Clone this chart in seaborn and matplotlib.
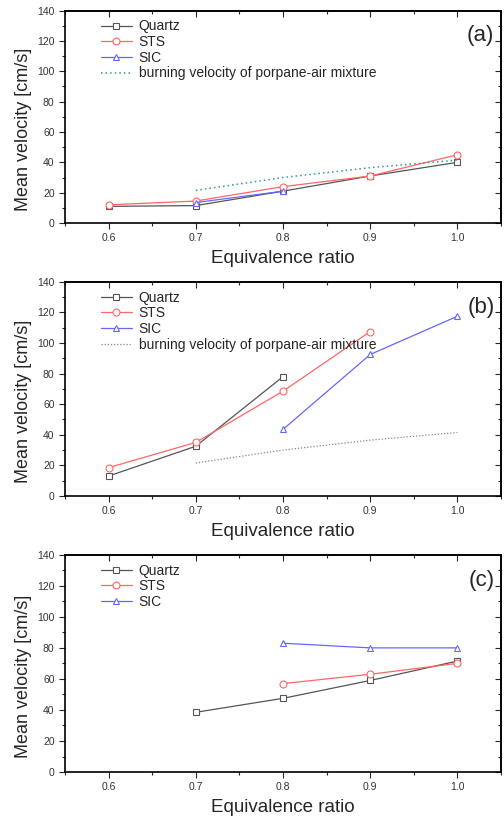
import numpy as np
import pandas as pd
import matplotlib
matplotlib.use("Agg")
import matplotlib.pyplot as plt
import seaborn as sns

# equivalence ratios
phi = [0.6, 0.7, 0.8, 0.9, 1.0]

# panel (a)
a_quartz = [11, 11.5, 21, 31, 40]
a_sts = [12, 14.5, 24, 31, 45]
a_sic_phi = [0.7, 0.8]
a_sic = [13.5, 21]

# panel (b)
b_quartz_phi = [0.6, 0.7, 0.8]
b_quartz = [13, 32.5, 78]
b_sts_phi = [0.6, 0.7, 0.8, 0.9]
b_sts = [18.5, 35, 68.5, 107.5]
b_sic_phi = [0.8, 0.9, 1.0]
b_sic = [43.5, 92.5, 117.5]

# panel (c)
c_quartz_phi = [0.7, 0.8, 0.9, 1.0]
c_quartz = [38.5, 47.5, 59, 71.5]
c_sts_phi = [0.8, 0.9, 1.0]
c_sts = [57, 63, 70]
c_sic_phi = [0.8, 0.9, 1.0]
c_sic = [83, 80, 80]

# burning velocity of propane-air mixture
burn_phi = [0.7, 0.8, 0.9, 1.0]
burn_vel = [21.5, 30, 36.5, 41.5]

sns.set_style("ticks")
plt.rcParams['font.family'] = ['Liberation Sans', 'DejaVu Sans']

fig = plt.figure(figsize=(5.04, 8.17), dpi=100)
positions = [
    [0.129, 0.727, 0.865, 0.260],
    [0.129, 0.393, 0.865, 0.262],
    [0.129, 0.055, 0.865, 0.266],
]

styles = {
    'Quartz': dict(color='#555555', marker='s'),
    'STS': dict(color='#ff6666', marker='o'),
    'SIC': dict(color='#6666ff', marker='^'),
}


def draw_series(ax, x, y, name):
    df = pd.DataFrame({'phi': x, 'v': y})
    st = styles[name]
    sns.lineplot(data=df, x='phi', y='v', ax=ax, color=st['color'],
                 marker=st['marker'], markersize=5, mfc='white',
                 mec=st['color'], mew=0.8, lw=0.9, label=name)


def setup_axis(ax, tag):
    ax.set_xlim(0.55, 1.05)
    ax.set_ylim(0, 140)
    xmaj = phi
    xmin = np.arange(0.55, 1.06, 0.1)
    ymaj = np.arange(0, 141, 20)
    ymin = np.arange(10, 140, 20)
    ax.set_xticks(xmaj)
    ax.set_xticklabels([f"{p:.1f}" for p in phi])
    ax.set_xticks(xmin, minor=True)
    ax.set_yticks(ymaj)
    ax.set_yticks(ymin, minor=True)
    ax.tick_params(axis='both', which='major', labelsize=7.5, labelcolor='#333333',
                   length=4, width=0.8, direction='out')
    ax.tick_params(axis='both', which='minor', length=2.5, width=0.8,
                   direction='out')
    # inward ticks on top and right
    top = ax.secondary_xaxis('top')
    top.set_xticks(xmaj)
    top.set_xticks(xmin, minor=True)
    top.tick_params(which='major', direction='in', length=4, width=0.8,
                    labeltop=False)
    top.tick_params(which='minor', direction='in', length=2.5, width=0.8)
    right = ax.secondary_yaxis('right')
    right.set_yticks(ymaj)
    right.set_yticks(ymin, minor=True)
    right.tick_params(which='major', direction='in', length=4, width=0.8,
                      labelright=False)
    right.tick_params(which='minor', direction='in', length=2.5, width=0.8)
    for sp in list(ax.spines.values()) + [top.spines['top'], right.spines['right']]:
        sp.set_linewidth(1.2)
        sp.set_color('black')
    ax.set_xlabel('Equivalence ratio', fontsize=13.5, labelpad=5)
    ax.set_ylabel('Mean velocity [cm/s]', fontsize=13)
    ax.yaxis.set_label_coords(-0.075, 0.44)
    ax.text(0.985, 0.93, tag, transform=ax.transAxes, ha='right', va='top',
            fontsize=16)
    ax.legend(loc='upper left', bbox_to_anchor=(0.07, 0.985), frameon=False,
              fontsize=10, handlelength=2.2, handletextpad=0.5,
              labelspacing=0.12, borderaxespad=0)


# (a)
ax = fig.add_axes(positions[0])
draw_series(ax, phi, a_quartz, 'Quartz')
draw_series(ax, phi, a_sts, 'STS')
draw_series(ax, a_sic_phi, a_sic, 'SIC')
ax.plot(burn_phi, burn_vel, ls=(0, (1, 2)), color='#2a9d9a', lw=1.1,
        label='burning velocity of porpane-air mixture')
setup_axis(ax, '(a)')

# (b)
ax = fig.add_axes(positions[1])
draw_series(ax, b_quartz_phi, b_quartz, 'Quartz')
draw_series(ax, b_sts_phi, b_sts, 'STS')
draw_series(ax, b_sic_phi, b_sic, 'SIC')
ax.plot(burn_phi, burn_vel, ls=(0, (1, 1.5)), color='#888888', lw=0.9,
        label='burning velocity of porpane-air mixture')
setup_axis(ax, '(b)')

# (c)
ax = fig.add_axes(positions[2])
draw_series(ax, c_quartz_phi, c_quartz, 'Quartz')
draw_series(ax, c_sts_phi, c_sts, 'STS')
draw_series(ax, c_sic_phi, c_sic, 'SIC')
setup_axis(ax, '(c)')

fig.savefig('out.png', dpi=100)
